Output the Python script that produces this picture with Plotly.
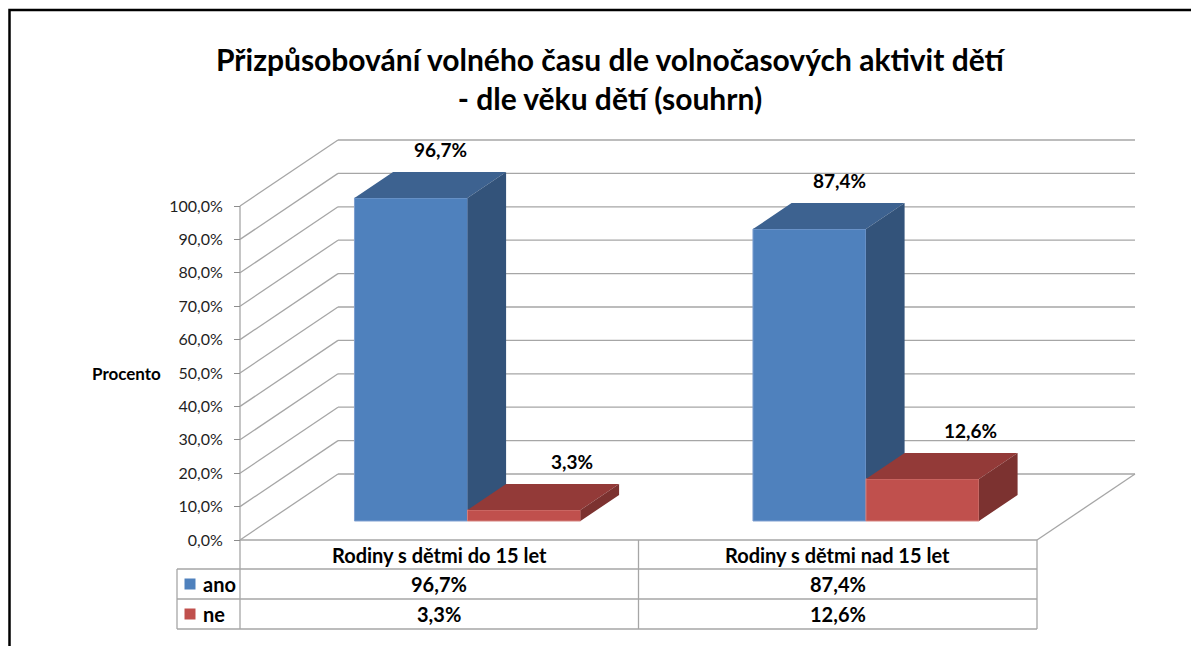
import plotly.graph_objects as go

# ---------------- data ----------------
categories = ["Rodiny s dětmi do 15 let", "Rodiny s dětmi nad 15 let"]
series_names = ["ano", "ne"]
ano_values = [96.7, 87.4]
ne_values = [3.3, 12.6]
y_ticks = [0, 10, 20, 30, 40, 50, 60, 70, 80, 90, 100]
title_lines = ["Přizpůsobování volného času dle volnočasových aktivit dětí",
               "- dle věku dětí (souhrn)"]
y_axis_title = "Procento"

# ---------------- geometry / style ----------------
W, H = 1191, 646
X0_PX, Y0_PX = 240, 540          # front-left floor corner in pixels
PX_PER_CAT = 398.5
PX_PER_PCT = 3.34


def fx(px):
    return (px - X0_PX) / PX_PER_CAT


def fy(py):
    return (Y0_PX - py) / PX_PER_PCT


X_RANGE = [fx(0), fx(W)]
Y_RANGE = [fy(H), fy(0)]

DEPTH_DX = 98 / PX_PER_CAT
DEPTH_DY = 66 / PX_PER_PCT
BAR_D0, BAR_D1 = 0.288, 0.682
BAR_W = 113 / PX_PER_CAT
N_CAT = len(categories)
cat_x = [i + 0.5 for i in range(N_CAT)]

FONT = "Lato"
GRID = "#a6a6a6"

styles = [
    dict(front="#4f81bd", top="#3d6290", side="#33537a", edge="#7d9fd0", xshift=-9, swatch="#4f81bd"),
    dict(front="#c0504d", top="#933a38", side="#7c3230", edge="#d47f7c", xshift=9, swatch="#c0504d"),
]
all_values = [ano_values, ne_values]


def fmt(v):
    return f"{v:.1f}".replace(".", ",") + "%"


fig = go.Figure()

# ---------- walls / grid (base subplot) ----------
gx, gy = [], []
for t in y_ticks:
    gx += [0, DEPTH_DX, None]
    gy += [t, t + DEPTH_DY, None]
    gx += [DEPTH_DX, N_CAT + DEPTH_DX, None]
    gy += [t + DEPTH_DY, t + DEPTH_DY, None]
gx += [N_CAT, N_CAT + DEPTH_DX, None]
gy += [0, DEPTH_DY, None]
fig.add_trace(go.Scatter(x=gx, y=gy, mode="lines", line=dict(color=GRID, width=1.3),
                         hoverinfo="skip", showlegend=False, xaxis="x", yaxis="y"))

# ---------- data table lines ----------
row_edges = [Y0_PX, 569, 599, 629]
LEG_LEFT = 177
tx, ty = [], []
tx += [0, 0, None]
ty += [max(y_ticks), fy(row_edges[-1]), None]
tx += [0, N_CAT, None]
ty += [0, 0, None]
for r in row_edges[1:]:
    tx += [fx(LEG_LEFT), N_CAT, None]
    ty += [fy(r), fy(r), None]
for c in range(1, N_CAT + 1):
    tx += [c, c, None]
    ty += [0, fy(row_edges[-1]), None]
tx += [fx(LEG_LEFT), fx(LEG_LEFT), None]
ty += [fy(row_edges[1]), fy(row_edges[-1]), None]
fig.add_trace(go.Scatter(x=tx, y=ty, mode="lines", line=dict(color=GRID, width=1.3),
                         hoverinfo="skip", showlegend=False, xaxis="x", yaxis="y"))

for k, st in enumerate(styles):
    ymid = fy((row_edges[k + 1] + row_edges[k + 2]) / 2)
    fig.add_trace(go.Scatter(x=[fx(190)], y=[ymid], mode="markers",
                             marker=dict(symbol="square", size=11, color=st["swatch"]),
                             hoverinfo="skip", showlegend=False, xaxis="x", yaxis="y"))

# ---------- 3D bars ----------
base = BAR_D0 * DEPTH_DY
shift = BAR_D0 * DEPTH_DX
ddx = (BAR_D1 - BAR_D0) * DEPTH_DX
ddy = (BAR_D1 - BAR_D0) * DEPTH_DY
annotations = []
for k, (name, vals, st) in enumerate(zip(series_names, all_values, styles)):
    xa = f"x{k + 2}"
    ya = f"y{k + 2}"
    off = (k - 1) * BAR_W + shift
    fig.add_trace(go.Bar(x=cat_x, y=vals, base=base, width=BAR_W, offset=off, name=name,
                         marker=dict(color=st["front"], line=dict(color=st["edge"], width=1)),
                         showlegend=False, xaxis=xa, yaxis=ya))
    topx, topy, sidex, sidey = [], [], [], []
    for cx, v in zip(cat_x, vals):
        xl = cx + off
        xr = xl + BAR_W
        yt = base + v
        topx += [xl, xr, xr + ddx, xl + ddx, xl, None]
        topy += [yt, yt, yt + ddy, yt + ddy, yt, None]
        sidex += [xr, xr, xr + ddx, xr + ddx, xr, None]
        sidey += [base, yt, yt + ddy, base + ddy, base, None]
        annotations.append(dict(x=(xl + xr) / 2 + ddx, y=yt + ddy, xref=xa, yref=ya,
                                text=f"<b>{fmt(v)}</b>", showarrow=False, yanchor="bottom",
                                yshift=9, xshift=st["xshift"],
                                font=dict(family=FONT, size=19, color="#000000")))
    fig.add_trace(go.Scatter(x=topx, y=topy, mode="lines", fill="toself", fillcolor=st["top"],
                             line=dict(width=0), hoverinfo="skip", showlegend=False,
                             xaxis=xa, yaxis=ya))
    fig.add_trace(go.Scatter(x=sidex, y=sidey, mode="lines", fill="toself", fillcolor=st["side"],
                             line=dict(width=0), hoverinfo="skip", showlegend=False,
                             xaxis=xa, yaxis=ya))

# ---------- table texts ----------
TABLE_FONT = 20
header_y = fy((row_edges[0] + row_edges[1]) / 2)
for cx, cat in zip(cat_x, categories):
    annotations.append(dict(x=cx, y=header_y, xref="x", yref="y", text=f"<b>{cat}</b>",
                            showarrow=False, font=dict(family=FONT, size=TABLE_FONT, color="#000000")))
for k, (name, vals) in enumerate(zip(series_names, all_values)):
    ymid = fy((row_edges[k + 1] + row_edges[k + 2]) / 2)
    annotations.append(dict(x=fx(201), y=ymid, xref="x", yref="y", text=f"<b>{name}</b>",
                            showarrow=False, xanchor="left",
                            font=dict(family=FONT, size=TABLE_FONT, color="#000000")))
    for cx, v in zip(cat_x, vals):
        annotations.append(dict(x=cx, y=ymid, xref="x", yref="y", text=f"<b>{fmt(v)}</b>",
                                showarrow=False,
                                font=dict(family=FONT, size=TABLE_FONT, color="#000000")))

annotations.append(dict(x=fx(126), y=50, xref="x", yref="y", text=f"<b>{y_axis_title}</b>",
                        showarrow=False, font=dict(family=FONT, size=17, color="#000000")))
annotations.append(dict(x=611 / W, y=1 - 79 / H, xref="paper", yref="paper", yanchor="middle",
                        text="<b>" + "<br>".join(title_lines) + "</b>", showarrow=False,
                        font=dict(family=FONT, size=30, color="#000000")))

fig.update_layout(
    width=W, height=H,
    margin=dict(l=0, r=0, t=0, b=0),
    paper_bgcolor="white", plot_bgcolor="rgba(0,0,0,0)",
    barmode="overlay",
    showlegend=False,
    xaxis=dict(range=X_RANGE, visible=False, domain=[0, 1]),
    yaxis=dict(range=Y_RANGE, anchor="free", position=X0_PX / W, tickmode="array",
               tickvals=y_ticks, ticktext=[fmt(t) for t in y_ticks], showgrid=False,
               zeroline=False, showline=False, ticks="outside", ticklen=6,
               ticklabelstandoff=8,
               tickcolor="#8c8c8c", tickfont=dict(family=FONT, size=16, color="#1f1f1f"),
               automargin=False),
    xaxis2=dict(range=X_RANGE, visible=False, overlaying="x"),
    yaxis2=dict(range=Y_RANGE, visible=False, overlaying="y"),
    xaxis3=dict(range=X_RANGE, visible=False, overlaying="x"),
    yaxis3=dict(range=Y_RANGE, visible=False, overlaying="y"),
    annotations=annotations,
    shapes=[dict(type="rect", xref="paper", yref="paper", x0=9.5 / W, x1=1.05,
                 y0=-0.05, y1=1 - 10 / H, line=dict(color="#000000", width=2.5),
                 fillcolor="rgba(0,0,0,0)")],
)

fig.write_html("out.html", config={"displayModeBar": False},
               post_script="document.body.style.margin='0px';")
